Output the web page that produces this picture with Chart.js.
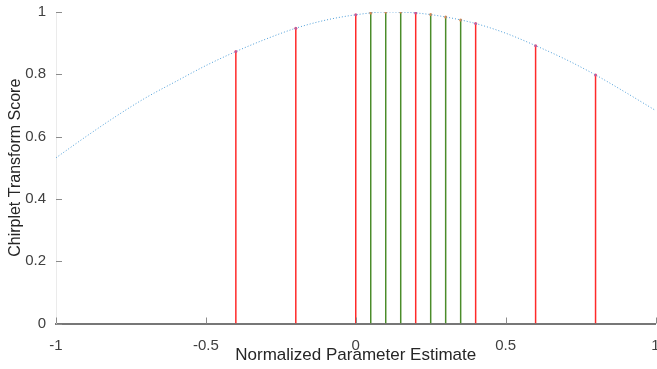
<!DOCTYPE html>
<html lang="en">
<head>
    <meta charset="UTF-8">
    <title>Chirplet Transform Score</title>
    <script src="https://cdn.jsdelivr.net/npm/chart.js"></script>
    <style>
        html, body { margin: 0; padding: 0; background: #fff; }
        .chart-container { position: relative; width: 657px; height: 369px; }
    </style>
</head>
<body>
    <div class="chart-container">
        <canvas id="scoreChart"></canvas>
    </div>

    <script>
        // curve samples
        const curveX = [-1, -0.9, -0.8, -0.7, -0.6, -0.5, -0.4, -0.3, -0.2, -0.1, 0, 0.1, 0.2, 0.3, 0.4, 0.5, 0.6, 0.7, 0.8, 0.9, 1];
        const curveScore = [0.532, 0.600, 0.665, 0.725, 0.777, 0.828, 0.873, 0.913, 0.948, 0.974, 0.991, 1.0, 0.997, 0.984, 0.963, 0.932, 0.892, 0.848, 0.798, 0.742, 0.684];

        // red stems (coarse grid) and green stems (fine grid)
        const redX = [-0.4, -0.2, 0, 0.2, 0.4, 0.6, 0.8];
        const redScore = [0.873, 0.948, 0.991, 0.997, 0.963, 0.892, 0.798];
        const greenX = [0.05, 0.1, 0.15, 0.25, 0.3, 0.35];
        const greenScore = [0.997, 1.0, 1.0, 0.992, 0.984, 0.974];

        const xTicks = [-1, -0.5, 0, 0.5, 1];
        const yTicks = [0, 0.2, 0.4, 0.6, 0.8, 1];

        const FONT = "'Liberation Sans', Arial, sans-serif";

        function stems(xs, ys) {
            const pts = [];
            xs.forEach((x, i) => {
                pts.push({ x: x, y: 0 });
                pts.push({ x: x, y: ys[i] });
                pts.push({ x: x, y: null });
            });
            return pts;
        }

        // small tick marks drawn inside the axes, like the original
        const innerTicks = {
            id: 'innerTicks',
            afterDatasetsDraw(chart) {
                const { ctx, chartArea, scales } = chart;
                ctx.save();
                ctx.strokeStyle = '#8c8c8c';
                ctx.lineWidth = 1;
                ctx.beginPath();
                yTicks.forEach(v => {
                    const y = Math.round(scales.y.getPixelForValue(v)) + 0.5;
                    ctx.moveTo(chartArea.left, y);
                    ctx.lineTo(chartArea.left + 6, y);
                });
                xTicks.forEach(v => {
                    const x = Math.round(scales.x.getPixelForValue(v)) + 0.5;
                    ctx.moveTo(x, chartArea.bottom);
                    ctx.lineTo(x, chartArea.bottom - 6);
                });
                ctx.stroke();
                ctx.restore();
            }
        };

        const ctx = document.getElementById('scoreChart').getContext('2d');

        new Chart(ctx, {
            type: 'scatter',
            data: {
                datasets: [
                    {
                        label: 'curve',
                        data: curveX.map((x, i) => ({ x: x, y: curveScore[i] })),
                        showLine: true,
                        borderColor: '#4f9fd9',
                        borderWidth: 1,
                        borderDash: [1, 2],
                        cubicInterpolationMode: 'monotone',
                        pointRadius: 0,
                        order: 0
                    },
                    {
                        label: 'coarse',
                        data: stems(redX, redScore),
                        showLine: true,
                        spanGaps: false,
                        borderColor: '#ff2a2a',
                        borderWidth: 1.5,
                        pointRadius: ctx => (ctx.raw && ctx.raw.y > 0 ? 1.5 : 0),
                        pointBackgroundColor: '#d9508a',
                        pointBorderWidth: 0,
                        order: 1
                    },
                    {
                        label: 'fine',
                        data: stems(greenX, greenScore),
                        showLine: true,
                        spanGaps: false,
                        borderColor: '#4b8c2a',
                        borderWidth: 1.5,
                        pointRadius: ctx => (ctx.raw && ctx.raw.y > 0 ? 1.5 : 0),
                        pointBackgroundColor: '#d98a50',
                        pointBorderWidth: 0,
                        order: 2
                    }
                ]
            },
            options: {
                responsive: true,
                maintainAspectRatio: false,
                animation: false,
                layout: { padding: { top: 12, right: 1.5, bottom: 3.5, left: 0 } },
                plugins: {
                    legend: { display: false },
                    tooltip: { enabled: false }
                },
                scales: {
                    x: {
                        type: 'linear',
                        min: -1,
                        max: 1,
                        afterBuildTicks: s => { s.ticks = xTicks.map(v => ({ value: v })); },
                        afterFit: s => { s.height = 42; s.paddingLeft = 0; s.paddingRight = 0; },
                        grid: { display: false, drawTicks: false },
                        border: { display: true, color: '#777777', width: 2 },
                        ticks: {
                            color: '#404040',
                            padding: 13,
                            maxRotation: 0,
                            font: { family: FONT, size: 15 },
                            callback: v => String(v)
                        },
                        title: {
                            display: true,
                            text: 'Normalized Parameter Estimate',
                            color: '#262626',
                            padding: { top: 0, bottom: 0 },
                            font: { family: FONT, size: 17 }
                        }
                    },
                    y: {
                        min: 0,
                        max: 1,
                        afterBuildTicks: s => { s.ticks = yTicks.map(v => ({ value: v })); },
                        afterFit: s => { s.width = 56; s.paddingTop = 0; s.paddingBottom = 0; },
                        grid: { display: false, drawTicks: false },
                        border: { display: true, color: '#ebebeb', width: 1 },
                        ticks: {
                            color: '#404040',
                            padding: 10,
                            font: { family: FONT, size: 15 },
                            callback: v => String(v)
                        },
                        title: {
                            display: true,
                            text: 'Chirplet Transform Score',
                            color: '#262626',
                            padding: { top: 6, bottom: 0 },
                            font: { family: FONT, size: 16 }
                        }
                    }
                }
            },
            plugins: [innerTicks]
        });
    </script>
</body>
</html>
